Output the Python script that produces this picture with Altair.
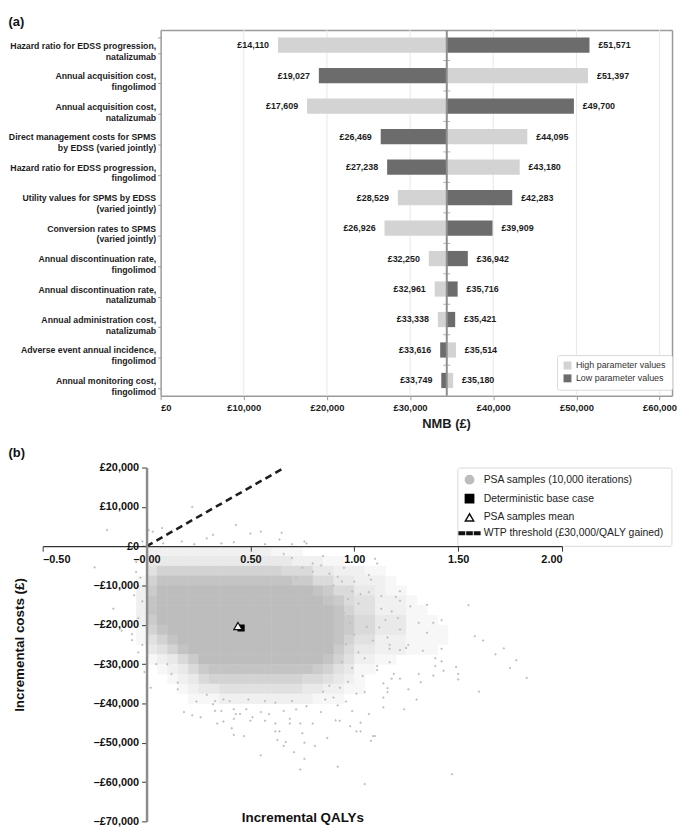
import altair as alt
import pandas as pd

FONT = "Liberation Sans"
INK = "#1c1c1c"
W, H = 670, 813

# ---------------- panel (a): tornado diagram ----------------
params = [
    "Hazard ratio for EDSS progression,|natalizumab",
    "Annual acquisition cost,|fingolimod",
    "Annual acquisition cost,|natalizumab",
    "Direct management costs for SPMS|by EDSS (varied jointly)",
    "Hazard ratio for EDSS progression,|fingolimod",
    "Utility values for SPMS by EDSS|(varied jointly)",
    "Conversion rates to SPMS|(varied jointly)",
    "Annual discontinuation rate,|fingolimod",
    "Annual discontinuation rate,|natalizumab",
    "Annual administration cost,|natalizumab",
    "Adverse event annual incidence,|fingolimod",
    "Annual monitoring cost,|fingolimod",
]
high_values = [14110, 51397, 17609, 44095, 43180, 28529, 26926, 32250, 32961, 33338, 35514, 35180]
low_values = [51571, 19027, 49700, 26469, 27238, 42283, 39909, 36942, 35716, 35421, 33616, 33749]
series_a = ["High parameter values", "Low parameter values"]
colors_a = ["#d3d3d3", "#6c6c6c"]
base_nmb = 34410
nmb_ticks = [0, 10000, 20000, 30000, 40000, 50000, 60000]
nmb_domain = [0, 61500]

rows = []
for p, hv, lv in zip(params, high_values, low_values):
    for s, v in zip(series_a, (hv, lv)):
        rows.append({"param": p, "series": s, "value": v, "base": base_nmb,
                     "side": "left" if v < base_nmb else "right",
                     "label": "£{:,}".format(v)})
df_a = pd.DataFrame(rows)

A_TOP, A_BOTTOM, A_LEFT = 14.5, 383.5, 154
xa_scale = alt.Scale(domain=nmb_domain, range=[A_LEFT, W], nice=False, zero=False)
ya_scale = alt.Scale(domain=params, range=[A_TOP, A_BOTTOM], paddingInner=0.5, paddingOuter=0.25)
span_scale = alt.Scale(domain=[0, 1], range=[A_TOP, A_BOTTOM], nice=False, zero=False)

axis_xa = alt.Axis(orient="bottom", offset=-(H - A_BOTTOM), values=nmb_ticks,
                   labelExpr="'£' + format(datum.value, ',')",
                   labelFont=FONT, labelFontWeight="bold", labelFontSize=9.5, labelColor=INK,
                   labelPadding=3, tickColor="#9a9a9a", tickSize=4, domainColor="#9a9a9a",
                   domainWidth=1.5, grid=False, title="NMB (£)",
                   titleFont=FONT, titleFontSize=13, titleFontWeight="bold", titleColor=INK,
                   titleX=442, titlePadding=6)
axis_ya = alt.Axis(orient="left", offset=-A_LEFT, labelExpr="split(datum.label, '|')",
                   labelFont=FONT, labelFontWeight="bold", labelFontSize=8.8, labelColor=INK,
                   labelLineHeight=11, labelPadding=2, labelLimit=260, tickBand="extent",
                   tickColor="#9a9a9a", tickSize=3, domainColor="#9a9a9a", domainWidth=1.5,
                   grid=False, title=None)
axis_xa_top = alt.Axis(orient="top", offset=-A_TOP, labels=False, ticks=False, grid=False,
                       domainColor="#9a9a9a", domainWidth=1.5,
                       title="(a)", titleX=0, titleY=-A_TOP, titleAlign="left",
                       titleBaseline="top", titleFont=FONT, titleFontSize=13,
                       titleFontWeight="bold", titleColor="#111")
axis_ya_right = alt.Axis(orient="right", labels=False, ticks=False, grid=False,
                         domainColor="#9a9a9a", domainWidth=1.5, title=None)

legend_a = alt.Legend(title=None, orient="none", legendX=554, legendY=A_BOTTOM - 41,
                      symbolType="square", symbolSize=64, symbolStrokeWidth=0,
                      labelFont=FONT, labelFontSize=9, labelColor="#333",
                      fillColor="white", strokeColor="#d9d9d9", padding=6, rowPadding=3,
                      cornerRadius=2)

df_grid = pd.DataFrame({"tick": nmb_ticks[1:], "lo": 0.0, "hi": 1.0})
df_center = pd.DataFrame({"base": [base_nmb], "lo": [0.0], "hi": [1.0]})
df_rowedge = pd.DataFrame({"base": base_nmb, "pos": [k / len(params) for k in range(1, len(params))]})

grid_a = alt.Chart(df_grid).mark_rule(color="#e8e8e8", strokeWidth=1).encode(
    x=alt.X("tick:Q", scale=xa_scale, axis=None),
    y=alt.Y("lo:Q", scale=span_scale, axis=None), y2="hi:Q",
)
bars = alt.Chart(df_a).mark_bar().encode(
    x=alt.X("value:Q", scale=xa_scale, axis=axis_xa),
    x2="base:Q",
    y=alt.Y("param:N", scale=ya_scale, axis=axis_ya),
    color=alt.Color("series:N", scale=alt.Scale(domain=series_a, range=colors_a), legend=legend_a),
)
left_text = alt.Chart(df_a).transform_filter("datum.side == 'left'").mark_text(
    align="right", baseline="middle", dx=-9, font=FONT, fontWeight="bold",
    fontSize=9, color=INK
).encode(
    x=alt.X("value:Q", scale=xa_scale, axis=axis_xa),
    y=alt.Y("param:N", scale=ya_scale, axis=axis_ya),
    text="label:N",
)
right_text = alt.Chart(df_a).transform_filter("datum.side == 'right'").mark_text(
    align="left", baseline="middle", dx=9, font=FONT, fontWeight="bold",
    fontSize=9, color=INK
).encode(
    x=alt.X("value:Q", scale=xa_scale, axis=axis_xa_top),
    y=alt.Y("param:N", scale=ya_scale, axis=axis_ya_right),
    text="label:N",
)
center_line = alt.Chart(df_center).mark_rule(color="#8f8f8f", strokeWidth=2).encode(
    x=alt.X("base:Q", scale=xa_scale, axis=None),
    y=alt.Y("lo:Q", scale=span_scale, axis=None), y2="hi:Q",
)
center_ticks = alt.Chart(df_rowedge).mark_tick(
    orient="horizontal", size=7, thickness=1, color="#8f8f8f"
).encode(
    x=alt.X("base:Q", scale=xa_scale, axis=None),
    y=alt.Y("pos:Q", scale=span_scale, axis=None),
)
panel_a = alt.layer(
    grid_a, alt.layer(bars, left_text), right_text, center_line, center_ticks
).resolve_scale(y="independent").resolve_axis(x="independent", y="independent")

# ---------------- panel (b): cost-effectiveness plane ----------------
qaly_domain = [-0.5, 2.0]
cost_domain = [-70000, 20000]
qaly_ticks = [-0.5, 0.0, 0.5, 1.0, 1.5, 2.0]
cost_ticks = [-70000, -60000, -50000, -40000, -30000, -20000, -10000, 0, 10000, 20000]

# density of the PSA cloud, 0 (none) .. 9 (solid)
grid_qaly_start = -0.15
grid_qaly_step = 0.05
grid_cost_start = 5000
grid_cost_step = 2500
density_rows = [
    "0000000000000000000000000000000000000000",
    "0000000000000000000000000000000000000000",
    "0002222222222221110000000000000000000000",
    "0003333333333333322211000000000000000000",
    "0004666666666666555332221100000000000000",
    "0016888888888888877553322210000000000000",
    "0027999999999999999875533211000000000000",
    "0028999999999999999987544222100000000000",
    "0028999999999999999998644222110000000000",
    "0027999999999999999998755333111000000000",
    "0016899999999999999998755333111100000000",
    "0014689999999999999998644222111100000000",
    "0003468999999999999997533222111000000000",
    "0001235799999999999986422110000000000000",
    "0000123578888888888764311000000000000000",
    "0000012356666666665543210000000000000000",
    "0000001233444444443322110000000000000000",
    "0000000111222222222111000000000000000000",
]

halo_qaly = [
    -0.19, 0.22, 0.43, 0.55, 0.65, 0.77, 0.075, 0.03, 0.29, -0.07, 0.23, 0.32, 0.36, 0.42,
    0.50, 0.57, 0.64, 0.70, 0.76, 0.17, 0.08, -0.02, 0.01,
    -0.25, -0.05, -0.04, -0.16, -0.04, -0.07, -0.07, -0.02, -0.03, -0.06, -0.02, -0.09,
    -0.04, -0.12, -0.01, 0.02, -0.05,
    0.047, 0.10, 0.12, 0.15, 0.15, 0.18, 0.22, 0.26, 0.24, 0.29, 0.33, 0.34, 0.37, 0.41,
    0.42, 0.47, 0.55, 0.62, 0.63, 0.67, 0.66, 0.71, 0.74, 0.76, 0.76, 0.81, 0.87, 0.92,
    1.05, 0.99, 1.03, 1.09, 0.84, 0.91, 0.80, 0.69, 0.43, 0.51, 0.36, 0.59, 1.14, 1.19,
    1.16, 0.42, 0.45, 0.50, 0.57, 0.62, 0.64, 0.69, 0.74, 0.75, 0.33, 0.42, 0.40, 0.48,
    0.55, 0.66, 0.72, 0.32, 0.37, 0.49, 0.57, 0.62, 0.70, 0.77,
    1.47, 0.98, 0.93, 1.07, 1.24, 1.30, 1.14, 1.05, 1.26, 1.22, 1.32, 1.31, 1.38, 1.43,
    1.49, 1.50, 1.50, 1.39, 1.42, 1.39, 1.33, 1.42, 1.17, 1.11, 1.22, 1.25, 1.17, 1.14,
    1.11, 1.16, 1.18, 1.08, 1.10, 1.01, 1.03,
    1.11, 1.10, 1.07, 1.22, 1.13, 1.27, 1.35, 1.31, 1.38, 1.42, 1.58, 1.35, 1.26, 1.22,
    1.21, 1.18, 1.22, 1.20, 1.13, 1.15, 1.12, 1.16, 1.17, 1.08, 1.07, 1.00, 0.94, 0.92,
    0.84, 0.80, 0.99, 1.03, 1.02, 0.97,
    1.62, 1.68, 1.75, 1.83, 1.55, 1.60, 1.72, 1.78,
    0.95, 0.98, 1.00, 0.96, 1.02, 0.94, 0.99, 1.04, 0.97, 1.06, 1.09, 1.05, 0.93, 1.01,
    0.90, 0.88, 0.85, 0.92, 0.96, 0.86,
    0.70, 0.75, 0.80, 0.66, 0.88, 0.85, 0.72, 0.90, 0.95,
]
halo_cost = [
    4100, 10000, 5400, 3700, 3400, 700, 4600, 3700, 2000, -300, 500, 2900, 700, 1000,
    3200, 500, 1700, 500, 1200, 1200, 700, 1200, 4100,
    -5400, -6600, -10200, -15900, -18300, -22400, -23900, -25100, -8000, -12500, -14000, -19000,
    -27000, -21500, -32000, -36000, -4000,
    -30000, -30000, -32500, -34700, -36400, -42200, -43000, -43500, -39500, -37800, -41900, -45100, -44600, -46300,
    -48000, -48300, -53200, -47100, -49300, -49800, -50800, -52400, -56800, -50000, -54100, -50800, -48800, -56100,
    -60500, -41900, -47100, -48300, -42200, -44300, -45100, -45100, -42700, -43500, -41900, -42700, -41000, -32500,
    -37100, -43900, -42700, -44400, -44400, -45100, -47100, -43900, -45100, -47600, -39400, -41500, -39400, -41500,
    -42200, -41900, -41500, -40200, -39000, -39000, -39400, -39800, -39400, -40700,
    -58000, -45800, -44400, -42700, -41500, -39000, -38500, -37100, -36400, -33700, -34600, -32500, -32900, -31700,
    -30700, -32500, -33900, -30500, -29300, -28500, -26600, -26100, -29500, -31500, -26400, -25900, -26100, -34900,
    -30500, -36100, -33700, -49500, -48300, -47100, -44900,
    -4400, -3200, -7300, -11500, -12700, -15300, -14900, -19500, -19500, -18800, -22900, -22000, -25100, -21200,
    -18300, -16600, -13900, -12900, -15900, -18800, -20700, -23200, -25100, -8500, -11700, -9000, -9000, -7800,
    -4900, -4400, -11500, -12200, -14600, -13400,
    -24000, -27500, -31000, -33500, -15000, -37000, -26000, -29000,
    -17000, -19500, -22500, -25000, -27000, -29500, -31000, -33000, -34500, -20500, -24000, -28500, -36000, -37500,
    -38500, -35500, -37000, -40500, -39500, -39000,
    -3000, -5500, -6500, -2000, -7000, -2500, -8000, -10000, -5500,
]
base_case = {"qaly": 0.455, "cost": -20800}
psa_mean = {"qaly": 0.44, "cost": -20300}
wtp_qaly = [0.0, 0.665]
wtp_cost = [0, 20000]

legend_names = ["PSA samples (10,000 iterations)", "Deterministic base case",
                "PSA samples mean", "WTP threshold (£30,000/QALY gained)"]
DASH = ("M-2.5,-0.3H-1.2V0.3H-2.5Z M-0.62,-0.3H0.62V0.3H-0.62Z "
        "M1.2,-0.3H2.5V0.3H1.2Z")
CLOUD = "#bdbdbd"

cells = []
for j, row in enumerate(density_rows):
    for i, ch in enumerate(row):
        if ch != "0":
            q0 = grid_qaly_start + grid_qaly_step * i
            c0 = grid_cost_start - grid_cost_step * j
            cells.append({"q0": q0, "q1": q0 + grid_qaly_step * 1.05,
                          "c0": c0, "c1": c0 - grid_cost_step * 1.05, "level": int(ch)})
df_cells = pd.DataFrame(cells)
df_halo = pd.DataFrame({"qaly": halo_qaly, "cost": halo_cost, "series": legend_names[0]})
df_marks = pd.DataFrame([{**base_case, "series": legend_names[1]},
                         {**psa_mean, "series": legend_names[2]}])
df_wtp = pd.DataFrame({"qaly": wtp_qaly, "cost": wtp_cost})

B_TOP, B_BOTTOM, B_LEFT, B_RIGHT = 456, H, 35, 559
xb_scale = alt.Scale(domain=qaly_domain, range=[B_LEFT, B_RIGHT], nice=False, zero=False)
yb_scale = alt.Scale(domain=cost_domain, range=[B_BOTTOM, B_TOP], nice=False, zero=False)
y_zero = B_BOTTOM - (B_BOTTOM - B_TOP) * 70000 / 90000
x_zero = B_LEFT + (B_RIGHT - B_LEFT) * 0.5 / 2.5

axis_xb = alt.Axis(orient="bottom", values=qaly_ticks, offset=-(H - y_zero),
                   labelExpr="datum.value < 0 ? '–' + format(-datum.value, '.2f') : (datum.value == 0 ? '–0.00' : format(datum.value, '.2f'))",
                   labelFont=FONT, labelFontWeight="bold", labelFontSize=11, labelColor="#111",
                   labelPadding=2, tickColor="#333", tickSize=5, domainColor="#333", domainWidth=1.3,
                   grid=False, title="Incremental QALYs", titleFont=FONT, titleFontSize=13.5,
                   titleFontWeight="bold", titleColor="#111", titleY=274, titleBaseline="middle",
                   zindex=1)
axis_yb = alt.Axis(orient="left", values=cost_ticks, offset=-x_zero,
                   labelExpr="datum.value < 0 ? '–£' + format(-datum.value, ',') : '£' + format(datum.value, ',')",
                   labelFont=FONT, labelFontWeight="bold", labelFontSize=11, labelColor="#111",
                   labelPadding=3, tickColor="#333", tickSize=5, domainColor="#8c8c8c", domainWidth=2.5,
                   grid=False, title="Incremental costs (£)", titleFont=FONT, titleFontSize=13.5,
                   titleFontWeight="bold", titleColor="#111", titleX=-(x_zero - 12),
                   titleY=(B_TOP + B_BOTTOM) / 2, titleBaseline="middle", zindex=1)
axis_xb_label = alt.Axis(orient="top", offset=-B_TOP, labels=False, ticks=False, domain=False,
                         grid=False, title="(b)", titleX=0, titleY=-21, titleAlign="left",
                         titleBaseline="top", titleFont=FONT, titleFontSize=13,
                         titleFontWeight="bold", titleColor="#111")

legend_b = alt.Legend(title=None, orient="none", legendX=453.4, legendY=B_TOP,
                      symbolSize=70, labelFont=FONT, labelFontSize=10.5, labelColor="#222",
                      labelOffset=9, labelLimit=320, fillColor="white", strokeColor="#d9d9d9",
                      padding=7, rowPadding=4, cornerRadius=2)
shape_scale = alt.Scale(domain=legend_names, range=["circle", "square", "triangle-up", DASH])
fill_scale = alt.Scale(domain=legend_names, range=[CLOUD, "#000000", "#ffffff", "#111111"])
stroke_scale = alt.Scale(domain=legend_names, range=[CLOUD, "#000000", "#111111", "#111111"])


def keyed():
    return dict(
        shape=alt.Shape("series:N", scale=shape_scale, legend=legend_b),
        fill=alt.Fill("series:N", scale=fill_scale, legend=legend_b),
        stroke=alt.Stroke("series:N", scale=stroke_scale, legend=legend_b),
    )


cloud = alt.Chart(df_cells).mark_rect(strokeWidth=0).encode(
    x=alt.X("q0:Q", scale=xb_scale, axis=axis_xb), x2="q1:Q",
    y=alt.Y("c0:Q", scale=yb_scale, axis=axis_yb), y2="c1:Q",
    color=alt.Color("level:Q", scale=alt.Scale(domain=[0, 9], range=["#ffffff", CLOUD]), legend=None),
)
halo = alt.Chart(df_halo).mark_point(filled=True, size=2, strokeWidth=1, opacity=1).encode(
    x=alt.X("qaly:Q", scale=xb_scale, axis=axis_xb),
    y=alt.Y("cost:Q", scale=yb_scale, axis=axis_yb), **keyed()
)
wtp = alt.Chart(df_wtp).mark_line(color="#1e1e1e", strokeWidth=2.6, strokeDash=[7, 4.5]).encode(
    x=alt.X("qaly:Q", scale=xb_scale, axis=axis_xb_label),
    y=alt.Y("cost:Q", scale=yb_scale, axis=axis_yb),
)
markers = alt.Chart(df_marks).mark_point(filled=True, strokeWidth=1.2, opacity=1).encode(
    x=alt.X("qaly:Q", scale=xb_scale, axis=None),
    y=alt.Y("cost:Q", scale=yb_scale, axis=axis_yb),
    size=alt.Size("series:N", scale=alt.Scale(domain=legend_names[1:3], range=[36, 70]), legend=None),
    **keyed()
)
panel_b = alt.layer(alt.layer(cloud, halo), wtp, markers).resolve_axis(x="independent")

chart = alt.layer(panel_a, panel_b).resolve_scale(
    x="independent", y="independent", color="independent"
).resolve_axis(
    x="independent", y="independent"
).properties(
    width=W, height=H, padding=0, background="white"
).configure_view(strokeWidth=0)

chart.save("out.html", embed_options={"renderer": "svg", "actions": False})
